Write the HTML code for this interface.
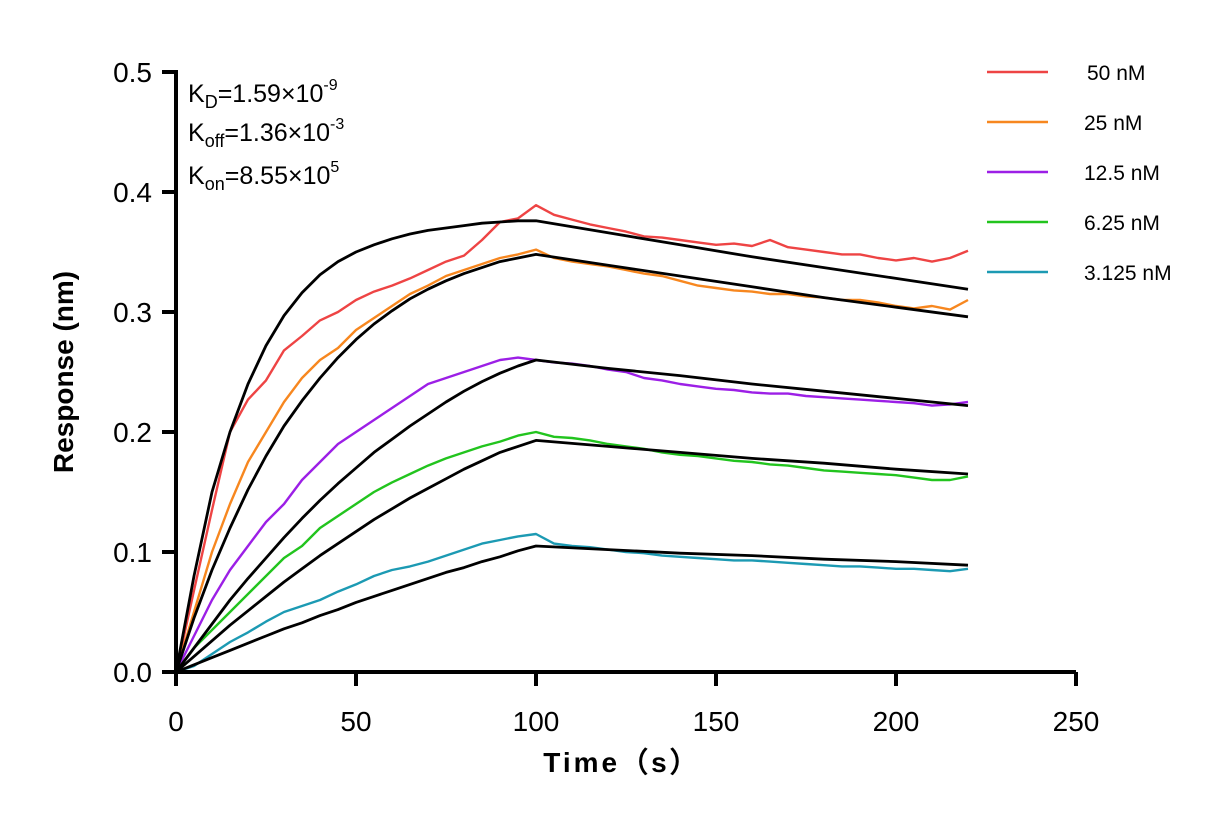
<!DOCTYPE html>
<html><head><meta charset="utf-8"><style>
body{margin:0;background:#fff;}
svg{display:block;font-family:"Liberation Sans",Arial,sans-serif;}
</style></head><body>
<svg id="chart" width="1231" height="825"></svg>
<script>
const times5 = [0,5,10,15,20,25,30,35,40,45,50,55,60,65,70,75,80,85,90,95,100,105,110,115,120,125,130,135,140,145,150,155,160,165,170,175,180,185,190,195,200,205,210,215,220];
const seriesNames = ["50 nM","25 nM","12.5 nM","6.25 nM","3.125 nM"];
const seriesColors = ["#ee4444","#f7871f","#9c1fe6","#22c41e","#1c9ab3"];
const data50 = [0,0.068,0.135,0.2,0.227,0.243,0.268,0.28,0.293,0.3,0.31,0.317,0.322,0.328,0.335,0.342,0.347,0.36,0.375,0.378,0.389,0.381,0.377,0.373,0.37,0.367,0.363,0.362,0.36,0.358,0.356,0.357,0.355,0.36,0.354,0.352,0.35,0.348,0.348,0.345,0.343,0.345,0.342,0.345,0.351];
const data25 = [0,0.05,0.1,0.14,0.175,0.2,0.225,0.245,0.26,0.27,0.285,0.295,0.305,0.315,0.322,0.33,0.335,0.34,0.345,0.348,0.352,0.345,0.342,0.34,0.338,0.335,0.332,0.33,0.326,0.322,0.32,0.318,0.317,0.315,0.315,0.313,0.312,0.31,0.31,0.308,0.305,0.303,0.305,0.302,0.31];
const data12 = [0,0.03,0.06,0.085,0.105,0.125,0.14,0.16,0.175,0.19,0.2,0.21,0.22,0.23,0.24,0.245,0.25,0.255,0.26,0.262,0.26,0.258,0.257,0.255,0.252,0.25,0.245,0.243,0.24,0.238,0.236,0.235,0.233,0.232,0.232,0.23,0.229,0.228,0.227,0.226,0.225,0.224,0.222,0.223,0.225];
const data6 = [0,0.02,0.035,0.05,0.065,0.08,0.095,0.105,0.12,0.13,0.14,0.15,0.158,0.165,0.172,0.178,0.183,0.188,0.192,0.197,0.2,0.196,0.195,0.193,0.19,0.188,0.186,0.183,0.181,0.18,0.178,0.176,0.175,0.173,0.172,0.17,0.168,0.167,0.166,0.165,0.164,0.162,0.16,0.16,0.163];
const data3 = [0,0.005,0.015,0.025,0.033,0.042,0.05,0.055,0.06,0.067,0.073,0.08,0.085,0.088,0.092,0.097,0.102,0.107,0.11,0.113,0.115,0.107,0.105,0.104,0.102,0.1,0.099,0.097,0.096,0.095,0.094,0.093,0.093,0.092,0.091,0.09,0.089,0.088,0.088,0.087,0.086,0.086,0.085,0.084,0.086];
const fitTimes = [0,5,10,15,20,25,30,35,40,45,50,55,60,65,70,75,80,85,90,95,100,120,140,160,180,200,220];
const fit50 = [0,0.08,0.15,0.2,0.24,0.272,0.297,0.316,0.331,0.342,0.35,0.356,0.361,0.365,0.368,0.37,0.372,0.374,0.375,0.376,0.376,0.366,0.356,0.346,0.337,0.328,0.319];
const fit25 = [0,0.045,0.085,0.12,0.152,0.18,0.205,0.226,0.245,0.262,0.277,0.29,0.301,0.311,0.319,0.326,0.332,0.337,0.342,0.345,0.348,0.339,0.33,0.321,0.312,0.304,0.296];
const fit12 = [0,0.02,0.04,0.06,0.078,0.095,0.112,0.128,0.143,0.157,0.17,0.183,0.194,0.205,0.215,0.225,0.234,0.242,0.249,0.255,0.26,0.253,0.247,0.24,0.234,0.228,0.222];
const fit6 = [0,0.013,0.026,0.039,0.051,0.063,0.075,0.086,0.097,0.107,0.117,0.127,0.136,0.145,0.153,0.161,0.169,0.176,0.183,0.188,0.193,0.188,0.183,0.178,0.174,0.169,0.165];
const fit3 = [0,0.006,0.012,0.018,0.024,0.03,0.036,0.041,0.047,0.052,0.058,0.063,0.068,0.073,0.078,0.083,0.087,0.092,0.096,0.101,0.105,0.102,0.099,0.097,0.094,0.092,0.089];
const xTicks = [0,50,100,150,200,250];
const yTicks = [0,0.1,0.2,0.3,0.4,0.5];
const yTickLabels = ["0.0","0.1","0.2","0.3","0.4","0.5"];

const NS="http://www.w3.org/2000/svg";
const svg=document.getElementById('chart');
const X=t=>176+t*3.6;
const Y=v=>672-v*1200;
function mk(tag,attrs,parent){const e=document.createElementNS(NS,tag);for(const k in attrs)e.setAttribute(k,attrs[k]);(parent||svg).appendChild(e);return e;}

const allData=[data50,data25,data12,data6,data3];
const allFits=[fit50,fit25,fit12,fit6,fit3];
allData.forEach((d,i)=>{
  const p=mk('polyline',{points:d.map((v,j)=>X(times5[j])+','+Y(v)).join(' '),fill:'none',stroke:seriesColors[i],'stroke-width':2.4,'stroke-linejoin':'round'});
  
  
});
allFits.forEach((d,i)=>{
  const p=mk('polyline',{points:d.map((v,j)=>X(fitTimes[j])+','+Y(v)).join(' '),fill:'none',stroke:'#000','stroke-width':2.8,'stroke-linejoin':'round'});
  
  
});
const ax=mk('path',{d:'M176,70 V672 H1076',fill:'none',stroke:'#000','stroke-width':4});


xTicks.forEach(t=>{
  mk('line',{x1:X(t),x2:X(t),y1:672,y2:686,stroke:'#000','stroke-width':4});
  const tx=mk('text',{x:X(t),y:731,'text-anchor':'middle','font-size':28});
  tx.textContent=t;
  
  
});
yTicks.forEach((v,i)=>{
  mk('line',{x1:162,x2:176,y1:Y(v),y2:Y(v),stroke:'#000','stroke-width':4});
  const tx=mk('text',{x:152,y:Y(v)+10,'text-anchor':'end','font-size':28});
  tx.textContent=yTickLabels[i];
  
  
});
const yt=mk('text',{x:0,y:0,transform:'translate(73,372) rotate(-90)','text-anchor':'middle','font-size':28,'font-weight':'bold'});
yt.textContent='Response (nm)';


const xt=mk('text',{x:622,y:772,'text-anchor':'middle','font-size':28,'font-weight':'bold','letter-spacing':3});
xt.textContent='Time（s）';


seriesNames.forEach((n,i)=>{
  const yy=72+i*50;
  const l=mk('line',{x1:987,x2:1048,y1:yy,y2:yy,stroke:seriesColors[i],'stroke-width':2.4});
  
  
  const t=mk('text',{x:i==0?1087:1084,y:yy+8,'font-size':21});
  t.textContent=n;
  
  
});
</script>
<svg style="position:absolute;left:0;top:0" width="420" height="200">
<text x="188" y="102" font-size="25" font-family="Liberation Sans, sans-serif">K<tspan font-size="18" dy="6">D</tspan><tspan dy="-6">=1.59×10</tspan><tspan font-size="16" dy="-12">-9</tspan></text>
<text x="188" y="141" font-size="25" font-family="Liberation Sans, sans-serif">K<tspan font-size="18" dy="6">off</tspan><tspan dy="-6">=1.36×10</tspan><tspan font-size="16" dy="-12">-3</tspan></text>
<text x="188" y="184" font-size="25" font-family="Liberation Sans, sans-serif">K<tspan font-size="18" dy="6">on</tspan><tspan dy="-6">=8.55×10</tspan><tspan font-size="16" dy="-12">5</tspan></text>
</svg>
</body></html>
